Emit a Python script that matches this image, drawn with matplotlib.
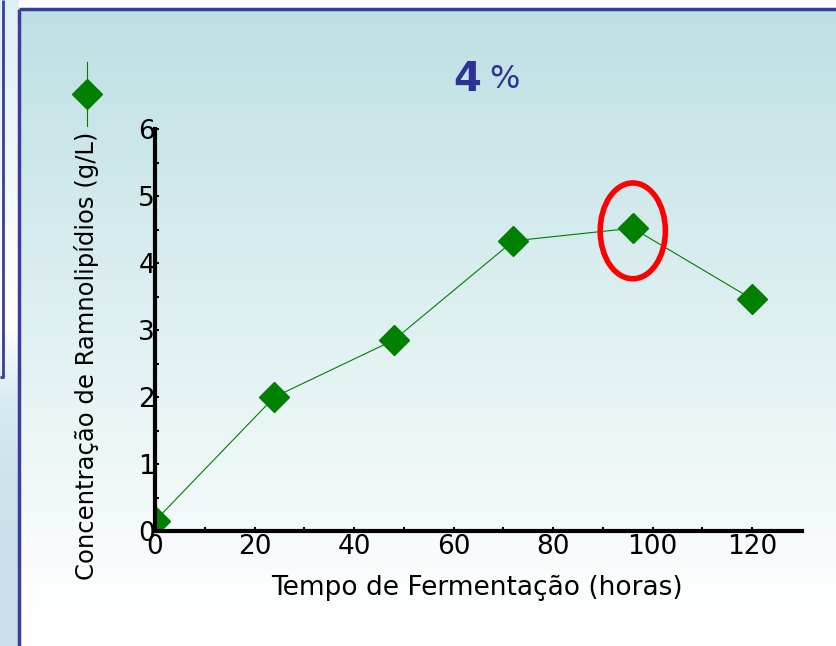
"""Rhamnolipid production over fermentation time (4% substrate)."""

import numpy as np
import matplotlib.pyplot as plt
from matplotlib.lines import Line2D
from matplotlib.patches import Ellipse

# Fermentation time (h) and rhamnolipid concentration (g/L)
tempo = [0, 24, 48, 72, 96, 120]
concentracao = [0.15, 2.0, 2.85, 4.33, 4.52, 3.46]

x_ticks = [0, 20, 40, 60, 80, 100, 120]
y_ticks = [0, 1, 2, 3, 4, 5, 6]
titulo_num = "4"
titulo_sinal = "%"
x_label = "Tempo de Fermentação (horas)"
y_label = "Concentração de Ramnolipídios (g/L)"

W, H = 837, 646
GREEN = "#008000"
NAVY = "#3c3ca0"

plt.rcParams['font.family'] = ['DejaVu Sans']

fig = plt.figure(figsize=(W / 100, H / 100), dpi=100)

# background: slide strip on the left, gradient panel on the right
bg = fig.add_axes([0, 0, 1, 1], zorder=-10)
bg.set_xlim(0, W)
bg.set_ylim(H, 0)
bg.axis("off")

rows = np.linspace(0, 1, H)[:, None]
top = np.array([189, 224, 227]) / 255
panel = top + (1 - top) * np.clip(rows / 0.95, 0, 1)[..., None] * np.ones((1, 3))
panel = np.repeat(panel, 2, axis=1)
bg.imshow(panel, extent=[19, W, H, 9], aspect="auto", interpolation="bilinear")

strip_y = np.linspace(0, H, 9)
strip_c = np.array([
    [222, 240, 246], [230, 244, 248], [240, 248, 250], [250, 252, 253],
    [255, 255, 255], [214, 234, 242], [204, 227, 236], [202, 225, 235],
    [202, 225, 235]]) / 255
strip = np.array([np.interp(np.arange(H), strip_y, strip_c[:, k]) for k in range(3)]).T
strip = np.repeat(strip[:, None, :], 2, axis=1)
bg.imshow(strip, extent=[0, 19, H, 0], aspect="auto", interpolation="bilinear")

# panel borders
bg.plot([19, 19], [9, H], color=NAVY, lw=2.5, solid_capstyle="butt")
bg.plot([19, W], [9, 9], color=NAVY, lw=2.5, solid_capstyle="butt")
bg.plot([3, 3], [0, 377], color=NAVY, lw=2, solid_capstyle="butt")
bg.plot([0, 4], [377, 377], color=NAVY, lw=2, solid_capstyle="butt")

# main plot
ax = fig.add_axes([155 / W, 1 - 531 / H, 647 / W, (531 - 129) / H])
ax.patch.set_alpha(0)
ax.plot(tempo, concentracao, color=GREEN, lw=0.8, marker="D", markersize=15,
        markerfacecolor=GREEN, markeredgecolor=GREEN)
ax.set_xlim(0, 130)
ax.set_ylim(0, 6)

for side in ("top", "right"):
    ax.spines[side].set_visible(False)
for side in ("left", "bottom"):
    ax.spines[side].set_linewidth(3)

ax.set_xticks(x_ticks)
ax.set_yticks(y_ticks)
ax.set_xticks(np.arange(10, 130, 20), minor=True)
ax.set_yticks(np.arange(0.5, 6, 1), minor=True)
ax.tick_params(which="both", direction="in", length=3, width=1.5, colors="black")
ax.tick_params(axis="x", labelsize=19, pad=2)
ax.tick_params(axis="y", labelsize=19, pad=0)

# circle around the peak concentration
ax.add_patch(Ellipse((96, 4.48), 13.1, 1.43, fill=False, edgecolor="red",
                     lw=4, clip_on=False, zorder=5))

# labels and title
fig.text(87 / W, 1 - 356 / H, y_label, rotation=90, ha="center", va="center",
         fontsize=17.5)
fig.text(477 / W, 1 - 588 / H, x_label, ha="center", va="center", fontsize=19)
fig.text(481 / W, 1 - 80 / H, titulo_num, ha="right", va="center",
         fontsize=29, fontweight="bold", color="#2e3196")
fig.text(489 / W, 1 - 80 / H, titulo_sinal, ha="left", va="center",
         fontsize=23, color="#2e3196")

# series key drawn beside the y label
lx, ly = 87 / W, 1 - 94 / H
fig.add_artist(Line2D([lx, lx], [1 - 62 / H, 1 - 126 / H], color=GREEN, lw=0.8,
                      transform=fig.transFigure))
fig.add_artist(Line2D([lx], [ly], marker="D", markersize=15, color=GREEN,
                      transform=fig.transFigure))

fig.savefig("out.png", dpi=100)
